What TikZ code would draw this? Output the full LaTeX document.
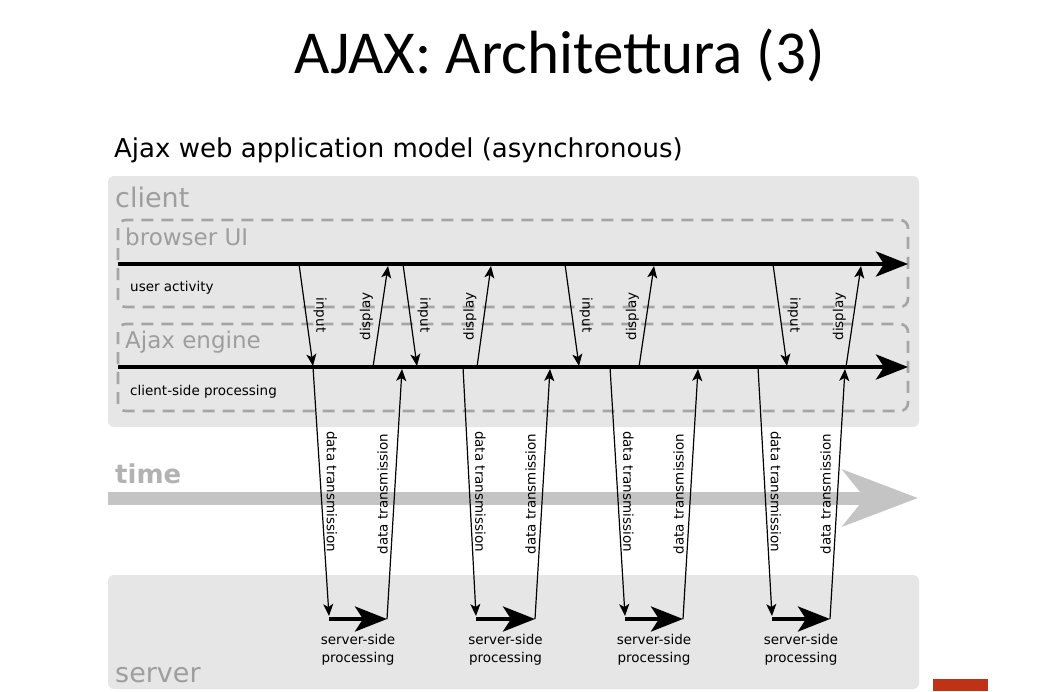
\documentclass[tikz,border=0pt]{standalone}
\usepackage{fontspec}
\setmainfont{DejaVu Sans}
\newfontfamily\titlefont{Carlito}
\usetikzlibrary{arrows.meta,positioning}
\definecolor{bg}{RGB}{230,230,230}
\definecolor{dc}{RGB}{165,165,165}
\definecolor{lc}{RGB}{158,158,158}
\definecolor{tc}{RGB}{196,196,196}
\definecolor{tl}{RGB}{178,178,178}
\definecolor{rd}{RGB}{192,50,22}
\tikzset{zone/.style={fill=bg,rounded corners=6pt},
 lane/.style={draw=dc,dash pattern=on 12pt off 8pt,line width=2.6pt,rounded corners=8pt},
 zlbl/.style={text=lc,font=\fontsize{27}{30}\selectfont,anchor=base west,inner sep=0pt},
 llbl/.style={zlbl,font=\fontsize{23}{26}\selectfont},
 slbl/.style={font=\fontsize{13.5}{16}\selectfont,anchor=base west,inner sep=0pt},
 flow/.style={line width=4pt,-{Stealth[length=32pt,width=25pt,inset=8pt]}},
 msg/.style={line width=1.2pt,-{Stealth[length=12pt,width=10pt,inset=3pt]}},
 tag/.style={font=\fontsize{13.5}{16}\selectfont,midway,anchor=south,inner sep=7pt},
 dn/.style={tag,rotate=-90},up/.style={tag,rotate=90},
 proc/.style={font=\fontsize{13.5}{18}\selectfont,midway,below=13pt,align=center,inner sep=0pt}}
\begin{document}
\begin{tikzpicture}[x=1pt,y=-1pt]
\path[fill=white,use as bounding box] (0,0) rectangle (1049,691);
\node[font=\titlefont\fontsize{61}{70}\selectfont,anchor=base west,inner sep=0pt] (ttl) at (294,73) {AJAX: Architettura (3)};
\node[font=\fontsize{26}{30}\selectfont,anchor=base west,inner sep=0pt] (sub) at (114,157) {Ajax web application model (asynchronous)};
\fill[zone] (108,176) rectangle (919,427);\fill[zone] (108,575) rectangle (919,689);
\draw[lane] (118,220) rectangle (908,307);\draw[lane] (118,324) rectangle (908,411);
\node[zlbl] (cl) at (115,207) {client};\node[zlbl] (sv) at (115,682) {server};
\node[llbl] (bui) at (125,245) {browser UI};\node[llbl] (eng) at (125,348) {Ajax engine};
\node[zlbl,text=tl,font=\fontsize{26}{30}\selectfont\bfseries] (tm) at (115,483) {time};
\node[slbl] (ua) at (130,291) {user activity};\node[slbl] (cp) at (130,395) {client-side processing};
\coordinate (u0) at (118,264);\coordinate (u1) at (908,264);
\coordinate (c0) at (118,367);\coordinate (c1) at (908,367);
\coordinate (t0) at (108,498);\coordinate (t1) at (918,498);
\draw[flow] (u0)--(u1);\draw[flow] (c0)--(c1);
\draw[line width=13pt,draw=tc,-{Stealth[length=75pt,width=56pt,inset=22pt]}] (t0)--(t1);
\foreach \g/\ia/\ib/\da/\db/\ta/\tb/\sa/\sb in {1/299/313/373/388/313/329/387/402,2/403/417/477/491/463/476/535/550,
 3/565/579/639/654/610/625/683/698,4/773/787/846/861/758/772/830/845}{
 \coordinate (ui\g) at (\ia,264);\coordinate (ci\g) at (\ib,366);
 \coordinate (cd\g) at (\da,367);\coordinate (ud\g) at (\db,266);
 \coordinate (ct\g) at (\ta,367);\coordinate (st\g) at (\tb,616);
 \coordinate (sv\g) at (\tb,619);\coordinate (sr\g) at (\sa,619);\coordinate (cr\g) at (\sb,369);
 \draw[msg] (ui\g)--node[dn] (li\g) {input} (ci\g);
 \draw[msg] (cd\g)--node[up] (ld\g) {display} (ud\g);
 \draw[msg] (ct\g)--node[dn,inner sep=5pt] (lt\g) {data transmission} (st\g);
 \draw[msg] (sr\g)--node[up,inner sep=6pt] (lr\g) {data transmission} (cr\g);
 \draw[flow] (sv\g)--node[proc] (pr\g) {server-side\\processing} (sr\g);}
\fill[rd] (933,679) rectangle (988,691);
\end{tikzpicture}
\end{document}
